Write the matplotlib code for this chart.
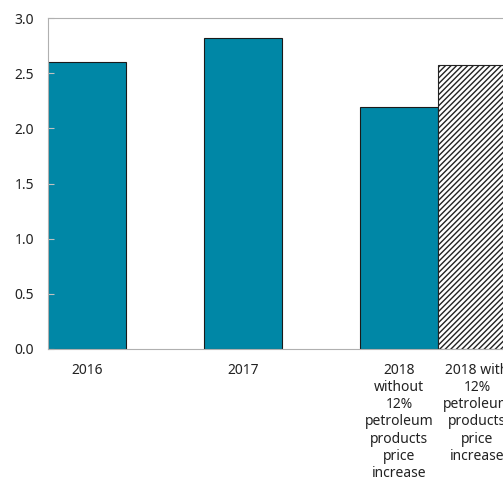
import matplotlib
matplotlib.use('Agg')
import matplotlib.pyplot as plt

categories = ["2016", "2017",
              "2018\nwithout\n12%\npetroleum\nproducts\nprice\nincrease",
              "2018 with\n12%\npetroleum\nproducts\nprice\nincrease"]
values = [2.60, 2.82, 2.19, 2.57]
positions = [0, 1, 2, 2.5]
hatched = [False, False, False, True]

TEAL = "#0087A6"

plt.rcParams['font.family'] = ['Noto Sans', 'DejaVu Sans']
plt.rcParams['hatch.linewidth'] = 1.0

fig = plt.figure(figsize=(5.03, 4.79), dpi=100)
ax = fig.add_axes([48 / 503, 130 / 479, 1.008, 331 / 479])

for x, v, h in zip(positions, values, hatched):
    if h:
        ax.bar(x, v, width=0.5, color="white", edgecolor="#222222",
               hatch="//////", linewidth=0.8)
    else:
        ax.bar(x, v, width=0.5, color=TEAL, edgecolor="#1a1a1a", linewidth=0.8)

ax.set_xlim(-0.25, 3.0)
ax.set_ylim(0, 3.0)
ax.set_yticks([0, 0.5, 1.0, 1.5, 2.0, 2.5, 3.0])
ax.set_yticklabels([f"{t:.1f}" for t in ax.get_yticks()])
ax.set_xticks(positions)
ax.set_xticklabels(categories, linespacing=1.2, color="#222222")

for s in ax.spines.values():
    s.set_color("#b0b0b0")
    s.set_linewidth(0.8)

ax.tick_params(axis="y", direction="in", length=4, color="#c0c0c0",
               labelsize=10, pad=10, labelcolor="#222222")
ax.tick_params(axis="x", length=0, labelsize=10, pad=10)

fig.savefig("out.png", dpi=100)
